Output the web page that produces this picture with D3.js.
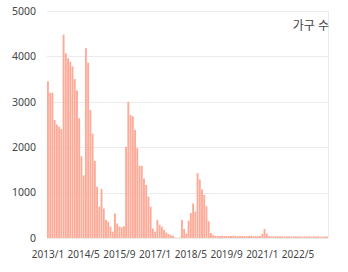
<!DOCTYPE html>
<html>
<head>
<meta charset="utf-8">
<script src="https://cdn.jsdelivr.net/npm/d3@7"></script>
<style>
  body { margin: 0; background: #fff; }
  text { font-family: "Noto Sans", "Noto Sans CJK KR", sans-serif; fill: #444; }
</style>
</head>
<body>
<svg width="348" height="272"></svg>
<script>
var svg = d3.select("svg"),
    width = +svg.attr("width"),
    height = +svg.attr("height");

// monthly household counts, 2013/1 .. 2023/6
var months = [];
for (var yr = 2013; yr <= 2023; yr++) {
    for (var mo = 1; mo <= 12; mo++) {
        if (yr == 2023 && mo > 6) break;
        months.push(yr + "/" + mo);
    }
}
var values = [
    3450, 3200, 3200, 2600, 2500, 2450, 2400, 4480, 4070, 3960, 3880, 3780,
    3500, 3250, 2640, 1800, 1380, 4180, 3860, 2820, 2300, 1700, 1130, 690,
    1080, 650, 400, 360, 250, 140, 540, 320, 250, 240, 260, 2010,
    3000, 2710, 2680, 2380, 1980, 1590, 1590, 1310, 1170, 910, 690, 210,
    140, 400, 290, 250, 180, 120, 90, 65, 50, 10, 5, 10,
    400, 200, 100, 380, 550, 760, 580, 1430, 1290, 1070, 950, 700,
    370, 110, 60, 50, 45, 45, 50, 45, 45, 40, 45, 50,
    45, 40, 45, 45, 40, 45, 45, 50, 40, 45, 40, 45,
    90, 200, 100, 40, 35, 40, 35, 35, 40, 35, 30, 35,
    35, 30, 35, 35, 30, 35, 30, 35, 30, 35, 30, 35,
    30, 35, 30, 30, 35, 30
];
var yTicks = [0, 1000, 2000, 3000, 4000, 5000];
var seriesName = "가구 수";

var plotL = 47, plotR = 328, plotT = 11, plotB = 238;

var x = d3.scaleBand()
    .domain(months)
    .range([plotL, plotR])
    .paddingInner(0.15)
    .paddingOuter(0);

var yScale = d3.scaleLinear()
    .domain([0, 5000])
    .range([plotB, plotT]);

// grid
svg.append("g")
    .selectAll("line")
    .data(yTicks)
    .enter().append("line")
    .attr("x1", plotL)
    .attr("x2", plotR)
    .attr("y1", d => Math.round(yScale(d)) + 0.5)
    .attr("y2", d => Math.round(yScale(d)) + 0.5)
    .attr("stroke", "#ebebeb");

svg.append("line")
    .attr("x1", plotR + 0.5).attr("x2", plotR + 0.5)
    .attr("y1", plotT).attr("y2", plotB)
    .attr("stroke", "#ebebeb");

// bars
svg.append("g")
    .selectAll("rect")
    .data(values)
    .enter().append("rect")
    .attr("x", (d, i) => x(months[i]))
    .attr("width", x.bandwidth())
    .attr("y", d => yScale(d))
    .attr("height", d => plotB - yScale(d))
    .attr("fill", "#fdab99");

// y axis
var yAxis = svg.append("g")
    .attr("transform", "translate(" + (plotL - 11) + ",0)")
    .call(d3.axisLeft(yScale).tickValues(yTicks).tickFormat(d3.format("d"))
        .tickSize(0).tickPadding(0));
yAxis.select(".domain").remove();
yAxis.selectAll("text").style("font-size", "10.5px");

// x axis
var xAxis = svg.append("g")
    .attr("transform", "translate(0," + (plotB + 9) + ")")
    .call(d3.axisBottom(x)
        .tickValues(months.filter((d, i) => i % 16 == 0))
        .tickSize(0).tickPadding(4));
xAxis.select(".domain").remove();
xAxis.selectAll("text").style("font-size", "10px");

// legend
svg.append("text")
    .attr("x", 329)
    .attr("y", 30)
    .attr("text-anchor", "end")
    .style("font-size", "12px")
    .text(seriesName);
</script>
</body>
</html>
